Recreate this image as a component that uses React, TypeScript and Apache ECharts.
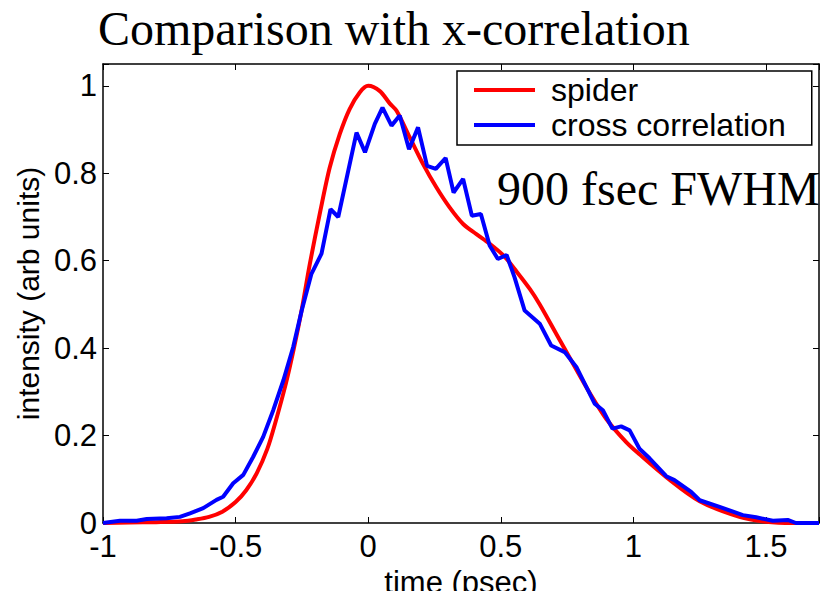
import React, { useEffect, useRef } from "react";
import * as echarts from "echarts";

const spiderTime = [-1, -0.9, -0.8, -0.7, -0.65, -0.6, -0.55, -0.5, -0.46, -0.42, -0.38, -0.35, -0.31, -0.28, -0.25, -0.22, -0.18, -0.145, -0.107, -0.07, -0.032, 0, 0.044, 0.081, 0.107, 0.157, 0.207, 0.257, 0.307, 0.358, 0.408, 0.458, 0.51, 0.56, 0.61, 0.647, 0.71, 0.772, 0.835, 0.898, 0.973, 1.023, 1.124, 1.25, 1.4, 1.5, 1.6, 1.7];
const spiderValues = [0, 0.001, 0.002, 0.004, 0.008, 0.014, 0.026, 0.048, 0.075, 0.114, 0.17, 0.23, 0.32, 0.4, 0.49, 0.593, 0.715, 0.813, 0.89, 0.947, 0.985, 1.0, 0.988, 0.96, 0.943, 0.882, 0.821, 0.768, 0.722, 0.684, 0.661, 0.639, 0.612, 0.575, 0.535, 0.5, 0.432, 0.365, 0.298, 0.238, 0.185, 0.157, 0.105, 0.05, 0.014, 0.003, 0, 0];

const xcorrTime = [-1, -0.936, -0.873, -0.835, -0.76, -0.71, -0.672, -0.622, -0.572, -0.547, -0.509, -0.471, -0.434, -0.396, -0.358, -0.32, -0.283, -0.25, -0.214, -0.176, -0.142, -0.113, -0.044, -0.012, 0.025, 0.054, 0.088, 0.119, 0.154, 0.188, 0.222, 0.255, 0.292, 0.322, 0.358, 0.391, 0.425, 0.458, 0.489, 0.522, 0.552, 0.59, 0.647, 0.69, 0.741, 0.785, 0.823, 0.854, 0.885, 0.921, 0.954, 0.986, 1.023, 1.061, 1.124, 1.155, 1.218, 1.25, 1.325, 1.413, 1.463, 1.526, 1.582, 1.613, 1.7];
const xcorrValues = [0, 0.005, 0.005, 0.009, 0.011, 0.014, 0.022, 0.034, 0.053, 0.06, 0.091, 0.11, 0.151, 0.197, 0.258, 0.326, 0.402, 0.488, 0.57, 0.616, 0.718, 0.7, 0.893, 0.848, 0.913, 0.95, 0.909, 0.932, 0.855, 0.905, 0.817, 0.81, 0.835, 0.756, 0.787, 0.703, 0.707, 0.635, 0.604, 0.613, 0.562, 0.486, 0.456, 0.406, 0.391, 0.357, 0.311, 0.273, 0.258, 0.216, 0.221, 0.212, 0.17, 0.148, 0.107, 0.098, 0.071, 0.052, 0.037, 0.018, 0.013, 0.005, 0.007, 0, 0];

const xTicks = [-1, -0.5, 0, 0.5, 1, 1.5];
const yTicks = [0, 0.2, 0.4, 0.6, 0.8, 1];

const titleText = "Comparison with x-correlation";
const noteText = "900 fsec FWHM";
const seriesNames = ["spider", "cross correlation"];

const sans = "'Liberation Sans', Arial, Helvetica, sans-serif";
const serif = "'Liberation Serif', 'Times New Roman', serif";

const isTick = (list: number[], v: number) => list.some((t) => Math.abs(t - v) < 1e-6);

export default function App() {
  const ref = useRef<HTMLDivElement>(null);
  useEffect(() => {
    if (!ref.current) return;
    const chart = echarts.init(ref.current, null, { renderer: "svg" });
    const spider = spiderTime.map((t, i) => [t, spiderValues[i]]);
    const xcorr = xcorrTime.map((t, i) => [t, xcorrValues[i]]);
    const axisBase = {
      type: "value" as const,
      axisLine: { show: true, onZero: false, lineStyle: { color: "#000", width: 1.5 } },
      axisTick: { show: true, inside: true, length: 6, lineStyle: { color: "#000", width: 1 } },
      splitLine: { show: false },
    };
    chart.setOption({
      animation: false,
      backgroundColor: "#fff",
      grid: { left: 103, right: 2, top: 64, bottom: 68, containLabel: false, outerBoundsMode: "none" },
      graphic: [
        {
          type: "text",
          left: 98,
          top: 4,
          style: { text: titleText, font: `48px ${serif}`, fill: "#000" },
        },
        {
          type: "text",
          left: 497,
          top: 164,
          style: { text: noteText, font: `48px ${serif}`, fill: "#000" },
        },
      ],
      legend: {
        orient: "vertical",
        left: 457,
        top: 71,
        padding: [3, 26, 4, 17],
        itemGap: 3,
        itemWidth: 61,
        itemHeight: 4,
        icon: "rect",
        borderColor: "#000",
        borderWidth: 1.5,
        backgroundColor: "#fff",
        textStyle: { fontFamily: sans, fontSize: 32, color: "#000", lineHeight: 32, padding: [0, 0, 0, 11] },
        data: seriesNames,
      },
      xAxis: [
        {
          ...axisBase,
          min: -1,
          max: 1.7,
          interval: 0.5,
          position: "bottom",
          name: "time (psec)",
          nameLocation: "middle",
          nameGap: 36,
          nameTextStyle: { fontFamily: sans, fontSize: 31, color: "#000" },
          axisLabel: {
            margin: 8,
            fontFamily: sans,
            fontSize: 31,
            color: "#000",
            formatter: (v: number) => (isTick(xTicks, v) ? String(v) : ""),
          },
        },
        {
          ...axisBase,
          min: -1,
          max: 1.7,
          interval: 0.5,
          position: "top",
          axisLabel: { show: false },
        },
      ],
      yAxis: [
        {
          ...axisBase,
          min: 0,
          max: 1.05,
          interval: 0.2,
          position: "left",
          name: "intensity (arb units)",
          nameLocation: "middle",
          nameGap: 47,
          nameTextStyle: { fontFamily: sans, fontSize: 30, color: "#000" },
          axisLabel: {
            margin: 6,
            fontFamily: sans,
            fontSize: 31,
            color: "#000",
            formatter: (v: number) => (isTick(yTicks, v) ? String(v) : ""),
          },
        },
        {
          ...axisBase,
          min: 0,
          max: 1.05,
          interval: 0.2,
          position: "right",
          axisLabel: { show: false },
        },
      ],
      series: [
        {
          name: seriesNames[0],
          type: "line",
          data: spider,
          showSymbol: false,
          symbol: "none",
          smooth: 0.3,
          lineStyle: { color: "#ff0000", width: 4 },
          itemStyle: { color: "#ff0000" },
          xAxisIndex: 0,
          yAxisIndex: 0,
        },
        {
          name: seriesNames[1],
          type: "line",
          data: xcorr,
          showSymbol: false,
          symbol: "none",
          lineStyle: { color: "#0000ff", width: 4 },
          itemStyle: { color: "#0000ff" },
          xAxisIndex: 0,
          yAxisIndex: 0,
        },
      ],
    });
    return () => chart.dispose();
  }, []);
  return <div ref={ref} style={{ width: 821, height: 591, position: "absolute", left: 0, top: 0 }} />;
}
